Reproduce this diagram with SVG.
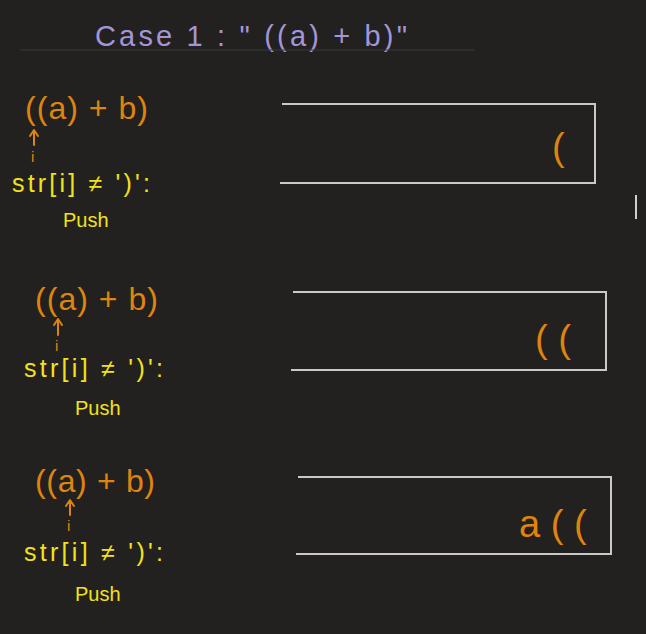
<svg xmlns="http://www.w3.org/2000/svg" width="646" height="634" viewBox="0 0 646 634">
<style>
.bg{fill:#222120}
.title{font-family:"Liberation Sans",sans-serif;font-size:29px;fill:#a395d8}
.expr{font-family:"Liberation Sans",sans-serif;font-size:32px;fill:#de840f}
.idx{font-family:"Liberation Sans",sans-serif;font-size:15px;fill:#de840f}
.cond{font-family:"Liberation Sans",sans-serif;font-size:25px;fill:#f2e21c}
.push{font-family:"Liberation Sans",sans-serif;font-size:20px;fill:#f2e21c}
.stack{fill:none;stroke:#c9c9c9;stroke-width:2}
.item{font-family:"Liberation Sans",sans-serif;font-size:38px;fill:#de840f}
.arr{fill:none;stroke:#de840f;stroke-width:2;stroke-linecap:round;stroke-linejoin:round}
</style>
<rect class="bg" x="0" y="0" width="646" height="634"/>
<g id="title">
<text class="title" x="95" y="46" textLength="312" lengthAdjust="spacing">Case 1 :  " ((a) + b)"</text>
<line x1="20" y1="50" x2="475" y2="50" stroke="#3a3a3a" stroke-width="1"/>
</g>
<g id="step1">
<text class="expr" x="25" y="119" textLength="123" lengthAdjust="spacing">((a) + b)</text>
<text class="idx" x="31" y="162">i</text>
<text class="cond" x="12" y="192" textLength="138" lengthAdjust="spacing">str[i] ≠ ')':</text>
<text class="push" x="63" y="227">Push</text>
</g>
<g id="stack1">
<path class="stack" d="M282,104 H595 V183 H280"/>
<text class="item" x="552" y="160">(</text>
</g>
<g id="step2">
<text class="expr" x="35" y="310" textLength="123" lengthAdjust="spacing">((a) + b)</text>
<text class="idx" x="55" y="351">i</text>
<text class="cond" x="24" y="377" textLength="139" lengthAdjust="spacing">str[i] ≠ ')':</text>
<text class="push" x="75" y="415">Push</text>
</g>
<g id="stack2">
<path class="stack" d="M293,292 H606 V370 H291"/>
<text class="item" x="535" y="352">( (</text>
</g>
<g id="step3">
<text class="expr" x="35" y="492" textLength="120" lengthAdjust="spacing">((a) + b)</text>
<text class="idx" x="67" y="531">i</text>
<text class="cond" x="24" y="561" textLength="139" lengthAdjust="spacing">str[i] ≠ ')':</text>
<text class="push" x="75" y="601">Push</text>
</g>
<g id="stack3">
<path class="stack" d="M298,477 H611 V554 H296"/>
<text class="item" x="519" y="537">a ( (</text>
</g>
<g id="connectors">
<path class="arr" d="M34,145 V131 M30,136 L34,130 L38,136"/>
<path class="arr" d="M58,335 V320 M54,325 L58,319 L62,325"/>
<path class="arr" d="M70,515 V501 M66,506 L70,500 L74,506"/>
</g>
<line x1="636" y1="195" x2="636" y2="219" stroke="#cfcfcf" stroke-width="2"/>
</svg>
